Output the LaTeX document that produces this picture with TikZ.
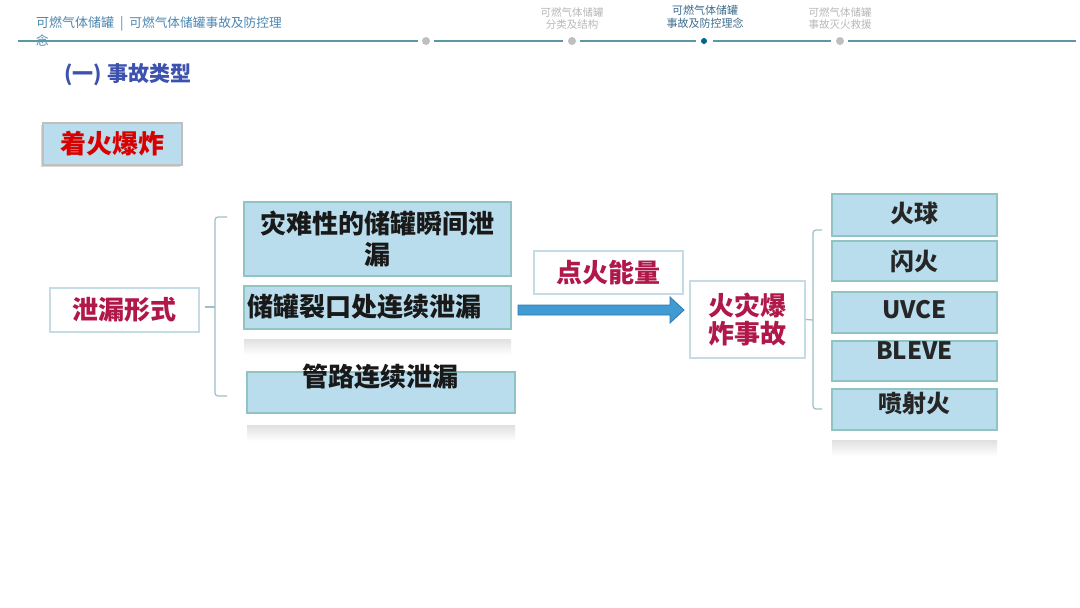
\documentclass[tikz,border=0pt]{standalone}
\usepackage{fontspec}
\setmainfont{Noto Sans CJK SC}
\usetikzlibrary{shadows}
\definecolor{boxfill}{HTML}{B9DDEC}
\definecolor{boxline}{HTML}{8FC4C2}
\definecolor{wline}{HTML}{C5DCE6}
\definecolor{crim}{HTML}{B0184A}
\definecolor{titleblue}{HTML}{3D52AE}
\definecolor{headblue}{HTML}{4E88B0}
\definecolor{hline}{HTML}{5C98A4}
\definecolor{arrowfill}{HTML}{3F9BD2}
\definecolor{arrowline}{HTML}{2E79AE}
\definecolor{bracecol}{HTML}{9DBFC7}
\begin{document}
\begin{tikzpicture}[x=1pt,y=-1pt,
  bluebox/.style={draw=boxline, line width=1.2pt, fill=boxfill, inner sep=0pt},
  whitebox/.style={draw=wline, line width=1.5pt, fill=white, inner sep=0pt, text=crim, font=\bfseries\fontsize{26}{31}\selectfont, align=center},
  boxtext/.style={inner sep=0pt, text=black!90, font=\bfseries\fontsize{26}{31}\selectfont, align=center},
  rtext/.style={inner sep=0pt, text=black!85, font=\bfseries\fontsize{24}{28}\selectfont},
  refl/.style={top color=black!12, bottom color=white, draw=none},
  braceline/.style={draw=bracecol, line width=1.2pt, rounded corners=3pt},
  hdot/.style={circle, fill=black!25, minimum size=8pt, inner sep=0pt},
  hseg/.style={draw=hline, line width=1.3pt}]
\useasboundingbox (0,0) rectangle (1080,608);
\fill[white] (0,0) rectangle (1080,608);

% header
\node[anchor=west, inner sep=0pt, text=headblue, font=\fontsize{13}{15}\selectfont] (hd1) at (36,24) {可燃气体储罐\ \ |\ \ {\fontsize{12.7}{15}\selectfont 可燃气体储罐事故及防控理}};
\node[anchor=west, inner sep=0pt, text=headblue, font=\fontsize{12.5}{15}\selectfont] (hd2) at (36,40) {念};
\draw[hseg] (18,41) -- (418,41);
\draw[hseg] (434,41) -- (563,41);
\draw[hseg] (580,41) -- (696,41);
\draw[hseg] (713,41) -- (831,41);
\draw[hseg] (848,41) -- (1076,41);
\node[hdot] (d1) at (426,41) {};
\node[hdot] (d2) at (572,41) {};
\node[circle, fill=black!75!blue!60!cyan, minimum size=6pt, inner sep=0pt] (d3) at (704,41) {};
\node[hdot] (d4) at (840,41) {};
\node[inner sep=0pt, text=black!28, font=\fontsize{10.5}{12}\selectfont, align=center] (t1) at (572,18) {可燃气体储罐\\分类及结构};
\node[inner sep=0pt, text=headblue!80!black, font=\fontsize{11}{12.5}\selectfont, align=center] (t2) at (705,17) {可燃气体储罐\\事故及防控理念};
\node[inner sep=0pt, text=black!28, font=\fontsize{10.5}{12}\selectfont, align=center] (t3) at (840,18) {可燃气体储罐\\事故灭火救援};

% title
\node[anchor=west, inner sep=0pt, text=titleblue, font=\bfseries\fontsize{21}{24}\selectfont] (title) at (64,75) {(一)\hspace{6pt}事故类型};

% tag
\node[bluebox, draw=black!25, minimum width=139pt, minimum height=42pt, text=red!85!black, font=\bfseries\fontsize{26}{31}\selectfont, drop shadow={shadow xshift=-2pt, shadow yshift=-2pt, opacity=0.3}] (tag) at (112.5,144) {着火爆炸};

% left
\node[whitebox, minimum width=149pt, minimum height=44pt] (leak) at (124.5,310) {泄漏形式};

\node[bluebox, minimum width=267pt, minimum height=74pt] (b1) at (377.5,239) {};
\node[boxtext] (b1t) at (377.5,238.5) {灾难性的储罐瞬间泄\\漏};
\node[bluebox, minimum width=267pt, minimum height=43pt] (b2) at (377.5,307.5) {};
\node[boxtext, anchor=west] (b2t) at (247,307) {储罐裂口处连续泄漏};
\node[refl, minimum width=267pt, minimum height=16pt] (b2r) at (377.5,347) {};
\node[bluebox, minimum width=268pt, minimum height=41pt] (b3) at (381,392.5) {};
\node[boxtext] (b3t) at (380,377) {管路连续泄漏};
\node[refl, minimum width=268pt, minimum height=16pt] (b3r) at (381,433) {};

% left brace
\coordinate (lb1) at (227,217);
\coordinate (lb2) at (227,396);
\coordinate (lbm) at (215,307);
\draw[braceline] (lb1) -- (215,217) -- (215,396) -- (lb2);
\draw[braceline] (leak.east) ++(5,-3) -- (lbm);

% arrow
\filldraw[fill=arrowfill, draw=arrowline, line width=0.8pt]
  (518,305) -- (670,305) -- (670,297) -- (684,310) -- (670,323) -- (670,315) -- (518,315) -- cycle;

\node[whitebox, minimum width=149pt, minimum height=43pt] (ign) at (608.5,272.5) {点火能量};
\node[whitebox, minimum width=115pt, minimum height=77pt] (fire) at (747.5,319.5) {};
\node[inner sep=0pt, text=crim, font=\bfseries\fontsize{26}{28}\selectfont, align=center] (firet) at (747,319) {火灾爆\\炸事故};

% right brace
\coordinate (rb1) at (822,230);
\coordinate (rb2) at (822,409);
\coordinate (rbm) at (813,320);
\draw[braceline] (rb1) -- (813,230) -- (813,409) -- (rb2);
\draw[braceline] (fire.east) -- (rbm);

% right boxes
\node[bluebox, minimum width=165pt, minimum height=42pt] (r1) at (914.5,215) {};
\node[rtext] (r1t) at (914.5,213) {火球};
\node[bluebox, minimum width=165pt, minimum height=40pt] (r2) at (914.5,261) {};
\node[rtext] (r2t) at (914.5,261) {闪火};
\node[bluebox, minimum width=165pt, minimum height=41pt] (r3) at (914.5,312.5) {};
\node[rtext] (r3t) at (914.5,310) {UVCE};
\node[bluebox, minimum width=165pt, minimum height=40pt] (r4) at (914.5,361) {};
\node[rtext] (r4t) at (914.5,351) {BLEVE};
\node[bluebox, minimum width=165pt, minimum height=41pt] (r5) at (914.5,409.5) {};
\node[rtext] (r5t) at (914.5,403) {喷射火};
\node[refl, minimum width=165pt, minimum height=16pt] (r5r) at (914.5,448) {};
\end{tikzpicture}
\end{document}
